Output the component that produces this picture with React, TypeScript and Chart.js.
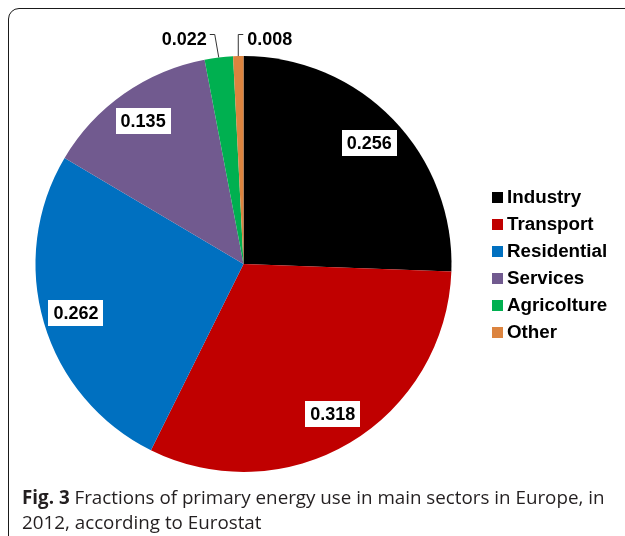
import React, { useEffect, useRef } from "react";
import { Chart, registerables } from "chart.js";

Chart.register(...registerables);

const categories = ["Industry", "Transport", "Residential", "Services", "Agricolture", "Other"];
const fractions = [0.256, 0.318, 0.262, 0.135, 0.022, 0.008];
const valueLabels = ["0.256", "0.318", "0.262", "0.135", "0.022", "0.008"];
const sliceColors = ["#000000", "#c00000", "#0070c0", "#715a8f", "#00b050", "#dc843f"];
const captionBold = "Fig. 3";
const captionLine1 = " Fractions of primary energy use in main sectors in Europe, in";
const captionLine2 = "2012, according to Eurostat";

const LABEL_FONT = 'bold 18px "Liberation Sans", Arial, Helvetica, sans-serif';
const LEGEND_FONT = 'bold 18.8px "Liberation Sans", Arial, Helvetica, sans-serif';

const labelPlugin = {
  id: "pieLabels",
  afterDatasetsDraw(chart: any) {
    const ctx = chart.ctx;
    const meta = chart.getDatasetMeta(0);
    const n = meta.data.length;
    ctx.save();
    ctx.font = LABEL_FONT;
    ctx.textBaseline = "middle";
    meta.data.forEach((arc: any, i: number) => {
      const { x, y, startAngle, endAngle, outerRadius } = arc.getProps(
        ["x", "y", "startAngle", "endAngle", "outerRadius"],
        true
      );
      const mid = (startAngle + endAngle) / 2;
      const text = valueLabels[i];
      if (fractions[i] >= 0.05) {
        const r = outerRadius * 0.84;
        const cx = x + Math.cos(mid) * r;
        const cy = y + Math.sin(mid) * r;
        const w = ctx.measureText(text).width + 10;
        const h = 26;
        ctx.fillStyle = "#ffffff";
        ctx.fillRect(Math.round(cx - w / 2), Math.round(cy - h / 2), Math.round(w), h);
        ctx.fillStyle = "#000000";
        ctx.textAlign = "center";
        ctx.fillText(text, cx, cy + 1);
      } else {
        const toRight = i === n - 1;
        const ex = x + Math.cos(mid) * outerRadius;
        const ey = y + Math.sin(mid) * outerRadius;
        const topY = y - outerRadius - 21.5;
        const elbowX = toRight ? ex : ex - 4;
        const endX = toRight ? elbowX + 5 : elbowX - 5;
        ctx.strokeStyle = "#333333";
        ctx.lineWidth = 1;
        ctx.beginPath();
        ctx.moveTo(ex, ey);
        ctx.lineTo(elbowX, topY);
        ctx.lineTo(endX, topY);
        ctx.stroke();
        ctx.fillStyle = "#000000";
        ctx.textAlign = toRight ? "left" : "right";
        ctx.fillText(text, toRight ? endX + 4 : endX - 3, topY + 5.5);
      }
    });

    // legend
    const lx = 492;
    const ly = 197;
    const step = 27;
    ctx.font = LEGEND_FONT;
    ctx.textAlign = "left";
    categories.forEach((c, i) => {
      const cy = ly + step * i;
      ctx.fillStyle = sliceColors[i];
      ctx.fillRect(lx, Math.round(cy - 5.5), 11, 11);
      ctx.fillStyle = "#000000";
      ctx.fillText(c, lx + 15, cy + 1);
    });
    ctx.restore();
  },
};

export default function App() {
  const ref = useRef<HTMLCanvasElement | null>(null);
  useEffect(() => {
    if (!ref.current) return;
    const chart = new Chart(ref.current, {
      type: "pie",
      data: {
        labels: categories,
        datasets: [
          {
            data: fractions,
            backgroundColor: sliceColors,
            borderWidth: 0,
          },
        ],
      },
      options: {
        responsive: false,
        animation: false,
        layout: { padding: { left: 35, right: 173, top: 56, bottom: 64 } },
        plugins: {
          legend: { display: false },
          tooltip: { enabled: false },
        },
      },
      plugins: [labelPlugin],
    });
    return () => chart.destroy();
  }, []);

  return (
    <div
      style={{
        position: "fixed",
        left: 0,
        top: 0,
        width: 625,
        height: 536,
        overflow: "hidden",
        background: "#ffffff",
      }}
    >
      <div
        style={{
          position: "absolute",
          left: 8,
          top: 8,
          width: 700,
          height: 600,
          border: "1.5px solid #1a1a1a",
          borderRadius: 11,
          boxSizing: "border-box",
        }}
      />
      <canvas
        ref={ref}
        width={625}
        height={536}
        style={{ position: "absolute", left: 0, top: 0, width: 625, height: 536 }}
      />
      <div
        style={{
          position: "absolute",
          left: 22,
          top: 485,
          fontFamily: '"Open Sans", "Noto Sans", sans-serif',
          fontSize: 18.8,
          lineHeight: "25px",
          color: "#231f20",
          whiteSpace: "nowrap",
        }}
      >
        <b style={{ fontWeight: 700 }}>{captionBold}</b>
        {captionLine1}
        <br />
        {captionLine2}
      </div>
    </div>
  );
}
